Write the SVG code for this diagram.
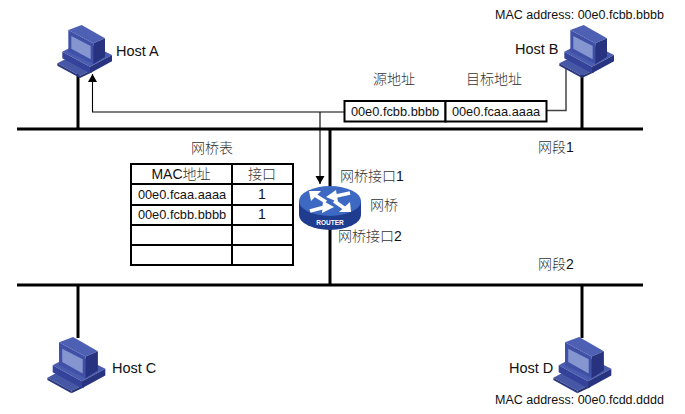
<svg xmlns="http://www.w3.org/2000/svg" width="685" height="414" viewBox="0 0 685 414">
<style>
text{font-family:"Liberation Sans","Noto Sans CJK SC",sans-serif;font-size:14px;fill:#111}
.cjk{font-family:"Noto Sans CJK SC",sans-serif;font-size:14px;fill:#333;font-weight:300}
.num{font-family:"Liberation Sans",sans-serif;fill:#111}
.host{font-size:14.500px}
.mac{font-size:12.800px}
.addr{font-size:12.500px}
.mid{text-anchor:middle}
.bus{stroke:#000;stroke-width:3;fill:none}
.thin{stroke:#000;stroke-width:1.100;fill:none}
.grey{stroke:#444;stroke-width:1.500;fill:none}
.cell{fill:#fff;stroke:#000;stroke-width:2}
.arrow{fill:none;stroke:#fff;stroke-width:3.800}
</style>
<defs>
<marker id="head" markerUnits="userSpaceOnUse" markerWidth="10" markerHeight="10" refX="8" refY="5" orient="auto">
<path d="M0 0.500L8 5L0 9.500Z" fill="#000"/>
</marker>
<!-- Desktop computer icon, drawn at the Host A position -->
<g id="pc" transform="translate(30,10) scale(.3333)">
<path d="M82 160L107 147L186 180L150 197Z" fill="#4657a6"/>
<path d="M82 160L150 197V204L82 167Z" fill="#2a377f"/>
<path d="M150 197L186 180V187L150 204Z" fill="#26316f"/>
<path d="M97 125L160 92L246 135L180 170Z" fill="#4a5cb0"/>
<path d="M97 125L180 170V190L97 145Z" fill="#34429a"/>
<path d="M180 170L246 135V154L180 190Z" fill="#28347f"/>
<path d="M115 60L155 45L225 85L190 100Z" fill="#4e60b4"/>
<path d="M115 60L190 100V162L115 125Z" fill="#3f50a6"/>
<path d="M190 100L225 85V140L190 162Z" fill="#27337f"/>
<path d="M124 78L182 108V148L124 116Z" fill="#8595d0"/>
</g>
</defs>

<g id="connectors">
<path class="bus" d="M17 129H643"/>
<path class="bus" d="M17 285H643"/>
<path class="bus" d="M78 74V129"/>
<path class="bus" d="M582 74V129"/>
<path class="bus" d="M330 129V285"/>
<path class="bus" d="M78 285V338"/>
<path class="bus" d="M582 285V338"/>
<path class="thin" d="M344 112H92.500V74" marker-end="url(#head)"/>
<path class="thin" d="M320 112V184" marker-end="url(#head)"/>
<path class="grey" d="M546 110.500H566V68"/>
</g>

<g id="host-a"><use href="#pc"/><text class="host" x="116" y="56">Host A</text></g>
<g id="host-b"><use href="#pc" x="502"/><text class="host" x="515" y="54">Host B</text><text class="addr" x="495" y="19">MAC address: 00e0.fcbb.bbbb</text></g>
<g id="host-c"><use href="#pc" transform="translate(-13.400,310.500) scale(1.060)"/><text class="host" x="112" y="373">Host C</text></g>
<g id="host-d"><use href="#pc" transform="translate(492.600,310.500) scale(1.060)"/><text class="host" x="509" y="373">Host D</text><text class="addr" x="495" y="404">MAC address: 00e0.fcdd.dddd</text></g>

<g id="frame">
<text class="cjk mid" x="394" y="84">源地址</text>
<text class="cjk mid" x="494" y="84">目标地址</text>
<rect class="cell" x="344.500" y="101" width="101" height="20.500"/>
<rect class="cell" x="445.500" y="101" width="101" height="20.500"/>
<text class="mac mid" x="395" y="116">00e0.fcbb.bbbb</text>
<text class="mac mid" x="496" y="116">00e0.fcaa.aaaa</text>
</g>

<g id="bridge-table">
<text class="cjk mid" x="212" y="153">网桥表</text>
<rect class="cell" x="131" y="164" width="162" height="101"/>
<path class="thin" style="stroke-width:2" d="M232 164V265M131 184H293M131 205H293M131 225H293M131 245H293"/>
<text class="mid" x="181" y="179">MAC<tspan class="cjk">地址</tspan></text>
<text class="cjk mid" x="262" y="179">接口</text>
<text class="mac mid" x="182" y="198.500">00e0.fcaa.aaaa</text>
<text class="mid" x="262" y="198.500">1</text>
<text class="mac mid" x="182" y="218.500">00e0.fcbb.bbbb</text>
<text class="mid" x="262" y="218.500">1</text>
</g>

<g id="router">
<path d="M299 201V215A31 15 0 0 0 361 215V201Z" fill="#1f3c8f"/>
<ellipse cx="330" cy="201" rx="31" ry="15" fill="#3d69c2"/>
<path class="arrow" d="M313 194L326 202"/>
<path d="M309 191H321L311 201Z" fill="#fff"/>
<path class="arrow" d="M347 210L334 201"/>
<path d="M351 212H339L350 202Z" fill="#fff"/>
<path class="arrow" d="M350 193L334 196.500"/>
<path d="M326 197L336 190L338 202Z" fill="#fff"/>
<path class="arrow" d="M310 211L325 207"/>
<path d="M334 207L323 201L322 213Z" fill="#fff"/>
<text class="mid" x="330" y="224.500" style="font-size:6.500px;font-weight:bold;fill:#fff">ROUTER</text>
</g>

<g id="labels">
<text class="cjk" x="340" y="181">网桥接口<tspan class="num">1</tspan></text>
<text class="cjk" x="370" y="210">网桥</text>
<text class="cjk" x="338" y="241">网桥接口<tspan class="num">2</tspan></text>
<text class="cjk" x="538" y="152">网段<tspan class="num">1</tspan></text>
<text class="cjk" x="538" y="269">网段<tspan class="num">2</tspan></text>
</g>
</svg>
